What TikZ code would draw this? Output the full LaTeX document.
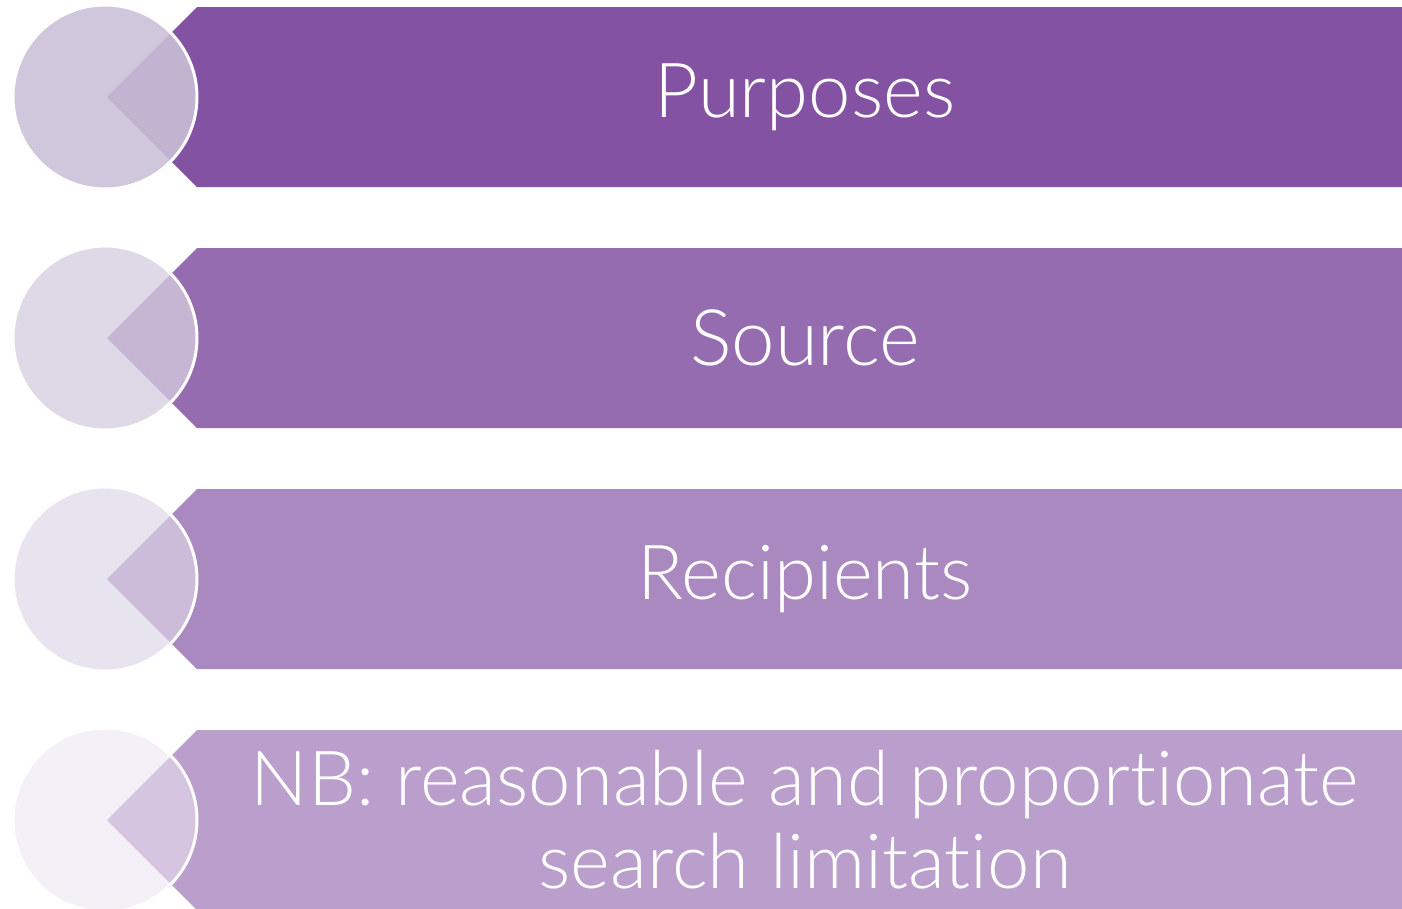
\documentclass[tikz,border=0pt]{standalone}
\usepackage{fontspec}
\setmainfont{Lato}[UprightFont=* Light, Ligatures=NoCommon]

% band / disc / overlap tones, darkest row first
\definecolor{bandA}{HTML}{8352A2}
\definecolor{bandB}{HTML}{966CB1}
\definecolor{bandC}{HTML}{AA88C0}
\definecolor{bandD}{HTML}{BA9FCC}
\definecolor{discA}{HTML}{D0C7DC}
\definecolor{discB}{HTML}{DFD9E7}
\definecolor{discC}{HTML}{E8E4EF}
\definecolor{discD}{HTML}{F3F0F7}
\definecolor{lapA}{HTML}{C2B3D1}
\definecolor{lapB}{HTML}{C7B6D3}
\definecolor{lapC}{HTML}{CCBBD9}
\definecolor{lapD}{HTML}{D5C5E1}

\begin{document}
\begin{tikzpicture}
[
    x=1pt, y=-1pt,
    disc/.style={circle, inner sep=0pt, minimum size=184pt},
    rowtext/.style={text=white, align=center, inner sep=0pt},
]
\useasboundingbox (0,0) rectangle (1402,908);
\foreach \n/\cy/\tone/\fs/\txt in {
    1/97/A/76/Purposes,
    2/338/B/78/Source,
    3/579/C/76/Recipients,
    4/820/D/76/{NB: reasonable and proportionate\\search limitation}}
{
    % banner with the notched left end
    \fill[band\tone] (197,\cy-90) -- (1402,\cy-90) -- (1402,\cy+90)
        -- (197,\cy+90) -- (107,\cy) -- cycle;
    \node (disc\n) [disc, fill=disc\tone] at (105,\cy) {};
    \begin{scope}
        \clip (197,\cy-90) -- (1402,\cy-90) -- (1402,\cy+90)
            -- (197,\cy+90) -- (107,\cy) -- cycle;
        \fill[lap\tone] (disc\n.center) circle (92);
    \end{scope}
    \draw[white, line width=3pt] (disc\n.center) circle (92);
    \node (label\n) [rowtext, font=\fontsize{\fs}{83}\selectfont]
        at (805,\cy) {\txt};
}
\end{tikzpicture}
\end{document}
